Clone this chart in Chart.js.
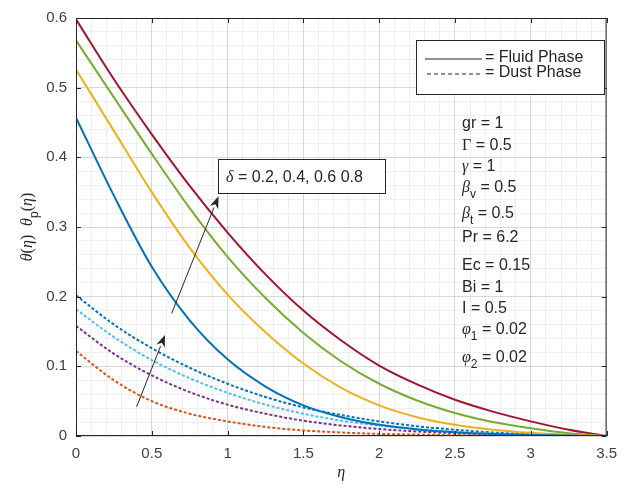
<!DOCTYPE html>
<html>
<head>
<meta charset="utf-8">
<script src="https://cdn.jsdelivr.net/npm/chart.js@4.4.0/dist/chart.umd.min.js"></script>
<style>
body { margin: 0; background: #fff; }
canvas { display: block; }
</style>
</head>
<body>
<canvas id="tempChart" width="626" height="490"></canvas>
<script>
// eta positions and temperature profiles
const eta = [0, 0.25, 0.5, 0.75, 1, 1.25, 1.5, 1.75, 2, 2.25, 2.5, 2.75, 3, 3.25, 3.5];

// fluid phase theta(eta), delta = 0.2, 0.4, 0.6, 0.8
const fluid02 = [0.457, 0.345, 0.243, 0.166, 0.110, 0.071, 0.044, 0.027, 0.016, 0.0095, 0.0055, 0.003, 0.0015, 0.0006, 0];
const fluid04 = [0.526, 0.438, 0.350, 0.270, 0.203, 0.149, 0.104, 0.069, 0.044, 0.027, 0.016, 0.009, 0.0045, 0.0018, 0];
const fluid06 = [0.568, 0.486, 0.405, 0.327, 0.257, 0.198, 0.148, 0.107, 0.075, 0.051, 0.033, 0.020, 0.011, 0.004, 0];
const fluid08 = [0.598, 0.512, 0.433, 0.359, 0.292, 0.232, 0.180, 0.137, 0.101, 0.074, 0.052, 0.035, 0.021, 0.009, 0];

// dust phase theta_p(eta), delta = 0.2, 0.4, 0.6, 0.8
const dust02 = [0.122, 0.080, 0.050, 0.032, 0.021, 0.013, 0.008, 0.005, 0.003, 0.002, 0.001, 0.0006, 0.0003, 0.0001, 0];
const dust04 = [0.158, 0.118, 0.087, 0.063, 0.045, 0.032, 0.022, 0.015, 0.010, 0.0065, 0.004, 0.0023, 0.0012, 0.0005, 0];
const dust06 = [0.182, 0.142, 0.109, 0.083, 0.062, 0.045, 0.032, 0.022, 0.015, 0.010, 0.006, 0.0035, 0.0018, 0.0007, 0];
const dust08 = [0.202, 0.160, 0.126, 0.098, 0.075, 0.056, 0.041, 0.030, 0.021, 0.014, 0.009, 0.005, 0.0025, 0.001, 0];

const xTicks = [0, 0.5, 1, 1.5, 2, 2.5, 3, 3.5];
const yTicks = [0, 0.1, 0.2, 0.3, 0.4, 0.5, 0.6];

// text in the figure
const deltaText = [['δ', 'gi'], [' = 0.2, 0.4, 0.6 0.8']];
const params = [
    [['gr = 1']],
    [['Γ', 'g'], [' = 0.5']],
    [['γ', 'gi'], [' = 1']],
    [['β', 'gi'], ['v', 'sub'], [' = 0.5']],
    [['β', 'gi'], ['t', 'sub'], [' = 0.5']],
    [['Pr = 6.2']],
    [['Ec = 0.15']],
    [['Bi = 1']],
    [['I = 0.5']],
    [['φ', 'gi'], ['1', 'sub'], [' = 0.02']],
    [['φ', 'gi'], ['2', 'sub'], [' = 0.02']]
];
const paramY = [128, 150, 171, 192, 218, 242, 270, 292, 313, 334, 362];

const SANS = '"Liberation Sans", Arial, sans-serif';
const SERIF = '"Liberation Serif", "Times New Roman", serif';

function near(list, v) {
    return list.some(t => Math.abs(t - v) < 1e-6);
}

function series(vals) {
    return vals.map((v, i) => ({ x: eta[i], y: v }));
}

function segFont(style, size) {
    if (style === 'sub') return (size * 0.75) + 'px ' + SANS;
    if (style === 'gi') return 'italic ' + size + 'px ' + SERIF;
    if (style === 'g') return size + 'px ' + SERIF;
    return size + 'px ' + SANS;
}

function richWidth(ctx, segs, size) {
    let w = 0;
    segs.forEach(s => { ctx.font = segFont(s[1], size); w += ctx.measureText(s[0]).width; });
    return w;
}

function drawRich(ctx, x, y, segs, size) {
    segs.forEach(s => {
        ctx.font = segFont(s[1], size);
        let dy = s[1] === 'sub' ? size * 0.38 : 0;
        ctx.fillText(s[0], x, y + dy);
        x += ctx.measureText(s[0]).width;
    });
}

function arrow(ctx, x1, y1, x2, y2) {
    const a = Math.atan2(y2 - y1, x2 - x1);
    const len = 12, hw = 4.5;
    ctx.beginPath();
    ctx.moveTo(x1, y1);
    ctx.lineTo(x2 - len * Math.cos(a), y2 - len * Math.sin(a));
    ctx.stroke();
    ctx.beginPath();
    ctx.moveTo(x2, y2);
    ctx.lineTo(x2 - len * Math.cos(a) - hw * Math.sin(a), y2 - len * Math.sin(a) + hw * Math.cos(a));
    ctx.lineTo(x2 - len * 0.7 * Math.cos(a), y2 - len * 0.7 * Math.sin(a));
    ctx.lineTo(x2 - len * Math.cos(a) + hw * Math.sin(a), y2 - len * Math.sin(a) - hw * Math.cos(a));
    ctx.closePath();
    ctx.fill();
}

const decorations = {
    id: 'decorations',
    afterDraw(chart) {
        const ctx = chart.ctx;
        const a = chart.chartArea;
        const xs = chart.scales.x, ys = chart.scales.y;
        ctx.save();
        ctx.strokeStyle = '#262626';
        ctx.fillStyle = '#262626';
        ctx.lineWidth = 1;

        // axes box and inward ticks
        ctx.strokeRect(a.left + 0.5, a.top + 0.5, a.right - a.left - 1, a.bottom - a.top - 1);
        ctx.beginPath();
        xTicks.forEach(t => {
            const px = Math.round(xs.getPixelForValue(t)) + 0.5;
            ctx.moveTo(px, a.bottom); ctx.lineTo(px, a.bottom - 5);
            ctx.moveTo(px, a.top); ctx.lineTo(px, a.top + 5);
        });
        yTicks.forEach(t => {
            const py = Math.round(ys.getPixelForValue(t)) + 0.5;
            ctx.moveTo(a.left, py); ctx.lineTo(a.left + 5, py);
            ctx.moveTo(a.right, py); ctx.lineTo(a.right - 5, py);
        });
        ctx.stroke();

        // line style legend
        ctx.fillStyle = '#fff';
        ctx.fillRect(416, 40, 188, 54);
        ctx.strokeRect(416.5, 40.5, 188, 54);
        ctx.fillStyle = '#262626';
        ctx.beginPath();
        ctx.moveTo(425, 59); ctx.lineTo(482, 59);
        ctx.stroke();
        ctx.setLineDash([4, 3]);
        ctx.beginPath();
        ctx.moveTo(427, 74); ctx.lineTo(482, 74);
        ctx.stroke();
        ctx.setLineDash([]);
        ctx.textBaseline = 'middle';
        ctx.font = '16px ' + SANS;
        ctx.fillText('= Fluid Phase', 485, 58);
        ctx.fillText('= Dust Phase', 485, 73);

        // parameter list
        ctx.textBaseline = 'alphabetic';
        params.forEach((line, i) => drawRich(ctx, 462, paramY[i], line, 16));

        // delta label
        ctx.fillStyle = '#fff';
        ctx.fillRect(218, 159, 167, 34);
        ctx.strokeRect(218.5, 159.5, 167, 34);
        ctx.fillStyle = '#262626';
        drawRich(ctx, 226, 182, deltaText, 16);

        // arrows (data coordinates)
        ctx.lineWidth = 1;
        arrow(ctx, xs.getPixelForValue(0.631), ys.getPixelForValue(0.176),
                   xs.getPixelForValue(0.94), ys.getPixelForValue(0.344));
        arrow(ctx, xs.getPixelForValue(0.40), ys.getPixelForValue(0.042),
                   xs.getPixelForValue(0.587), ys.getPixelForValue(0.145));

        // axis titles
        ctx.font = 'italic 16px ' + SERIF;
        ctx.textAlign = 'center';
        ctx.textBaseline = 'middle';
        ctx.fillText('η', (a.left + a.right) / 2, 473);

        const yTitle = [['θ', 'gi'], ['(', 'g'], ['η', 'gi'], [')', 'g'], ['  '], ['θ', 'gi'], ['p', 'sub'], ['(', 'g'], ['η', 'gi'], [')', 'g']];
        ctx.textAlign = 'left';
        ctx.textBaseline = 'alphabetic';
        ctx.translate(32, (a.top + a.bottom) / 2);
        ctx.rotate(-Math.PI / 2);
        const w = richWidth(ctx, yTitle, 16);
        drawRich(ctx, -w / 2, 0, yTitle, 16);
        ctx.restore();
    }
};

const solid = { borderWidth: 2, pointRadius: 0, fill: false, cubicInterpolationMode: 'monotone' };
const dashed = Object.assign({}, solid, { borderDash: [3, 2] });

new Chart(document.getElementById('tempChart'), {
    type: 'line',
    data: {
        datasets: [
            Object.assign({ data: series(fluid02), borderColor: '#0072BD' }, solid),
            Object.assign({ data: series(fluid04), borderColor: '#EDB120' }, solid),
            Object.assign({ data: series(fluid06), borderColor: '#77AC30' }, solid),
            Object.assign({ data: series(fluid08), borderColor: '#A2142F' }, solid),
            Object.assign({ data: series(dust02), borderColor: '#D95319' }, dashed),
            Object.assign({ data: series(dust04), borderColor: '#7E2F8E' }, dashed),
            Object.assign({ data: series(dust06), borderColor: '#4DBEEE' }, dashed),
            Object.assign({ data: series(dust08), borderColor: '#0072BD' }, dashed)
        ]
    },
    options: {
        responsive: false,
        animation: false,
        devicePixelRatio: 1,
        layout: { padding: { top: 17, right: 19, left: 0, bottom: 0 } },
        plugins: { legend: { display: false }, tooltip: { enabled: false } },
        scales: {
            x: {
                type: 'linear', min: 0, max: 3.5,
                afterFit(scale) { scale.height = 54; },
                border: { display: false },
                grid: {
                    drawTicks: false,
                    color: c => near(xTicks, c.tick.value) ? 'rgba(0,0,0,0.15)' : 'rgba(0,0,0,0.06)'
                },
                ticks: {
                    stepSize: 0.1, autoSkip: false, maxRotation: 0, padding: 9,
                    color: '#404040', font: { family: SANS, size: 15 },
                    callback: v => near(xTicks, v) ? String(+v.toFixed(1)) : ''
                }
            },
            y: {
                min: 0, max: 0.6,
                afterFit(scale) { scale.width = 76; },
                border: { display: false },
                grid: {
                    drawTicks: false,
                    color: c => near(yTicks, c.tick.value) ? 'rgba(0,0,0,0.15)' : 'rgba(0,0,0,0.06)'
                },
                ticks: {
                    stepSize: 0.02, autoSkip: false, padding: 9,
                    color: '#404040', font: { family: SANS, size: 15 },
                    callback: v => near(yTicks, v) ? String(+v.toFixed(1)) : ''
                }
            }
        }
    },
    plugins: [decorations]
});
</script>
</body>
</html>
